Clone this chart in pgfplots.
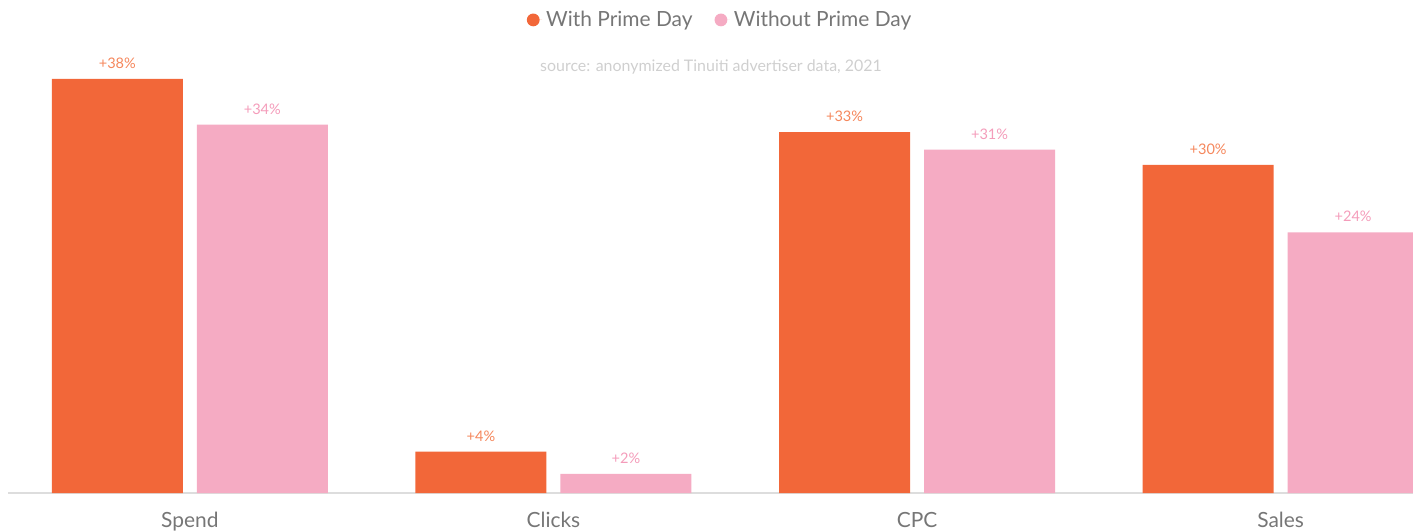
\documentclass[border=0pt]{standalone}
\usepackage{pgfplots}
\pgfplotsset{compat=1.18}
\usepackage{pgfplotstable}
\usepackage{fontspec}
\setmainfont{Lato}
\definecolor{cOr}{HTML}{F26739}
\definecolor{cPk}{HTML}{F5ABC3}
\definecolor{cOrL}{HTML}{F5875C}
\definecolor{cPkL}{HTML}{F49CBA}
\definecolor{cTx}{HTML}{767676}
\definecolor{cSrc}{HTML}{CFCFCF}
\definecolor{cAx}{HTML}{DDDDDD}
\pgfplotstableread{
x y lab
0 38.0 38
1 3.8 4
2 33.1 33
3 30.1 30
}\withprime
\pgfplotstableread{
x y lab
0 33.8 34
1 1.75 2
2 31.5 31
3 23.9 24
}\withoutprime
\begin{document}
\begin{tikzpicture}
\begin{axis}[
 at={(0,0)}, anchor=south west,
 scale only axis, width=702.5bp, height=218bp,
 xmin=-0.5, xmax=3.364, ymin=0, ymax=40,
 axis x line=bottom, axis y line=none,
 axis line style={draw=cAx, line width=1bp, -},
 xtick={0,1,2,3}, xticklabels={Spend,Clicks,CPC,Sales},
 major tick length=0pt,
 xticklabel style={anchor=north, inner sep=0pt, yshift=-9.5bp, font=\fontsize{10.5}{12}\selectfont, text=cTx},
 ybar=7bp, bar width=65.5bp,
 point meta=explicit,
 nodes near coords={+\pgfmathprintnumber[assume math mode=true]{\pgfplotspointmeta}\%},
 legend style={at={(0.5075,1.085)}, anchor=center, draw=none, fill=none, legend columns=2,
   font=\fontsize{10.5}{12}\selectfont, text=cTx,
   /tikz/every even column/.append style={column sep=9bp}},
]
\addplot[fill=cOr, draw=none,
  every node near coord/.append style={anchor=south, inner sep=0pt, yshift=5bp, font=\fontsize{7.3}{8}\selectfont, text=cOrL},
  legend image code/.code={\path (0bp,0bp) -- (7.1bp,0bp); \fill[cOr] (2.6bp,0bp) circle (3.2bp);}]
  table[x=x, y=y, meta=lab] {\withprime};
\addlegendentry{With Prime Day}
\addplot[fill=cPk, draw=none,
  every node near coord/.append style={anchor=south, inner sep=0pt, yshift=5bp, font=\fontsize{7.3}{8}\selectfont, text=cPkL},
  legend image code/.code={\path (0bp,0bp) -- (7.1bp,0bp); \fill[cPk] (2.6bp,0bp) circle (3.2bp);}]
  table[x=x, y=y, meta=lab] {\withoutprime};
\addlegendentry{Without Prime Day}
\end{axis}
\node[font=\fontsize{8}{9}\selectfont, text=cSrc] at (351.5bp,213bp) {source: anonymized Tinuiti advertiser data, 2021};
\pgfresetboundingbox
\path[use as bounding box] (-4bp,-19bp) rectangle (702.5bp,246.5bp);
\end{tikzpicture}
\end{document}
